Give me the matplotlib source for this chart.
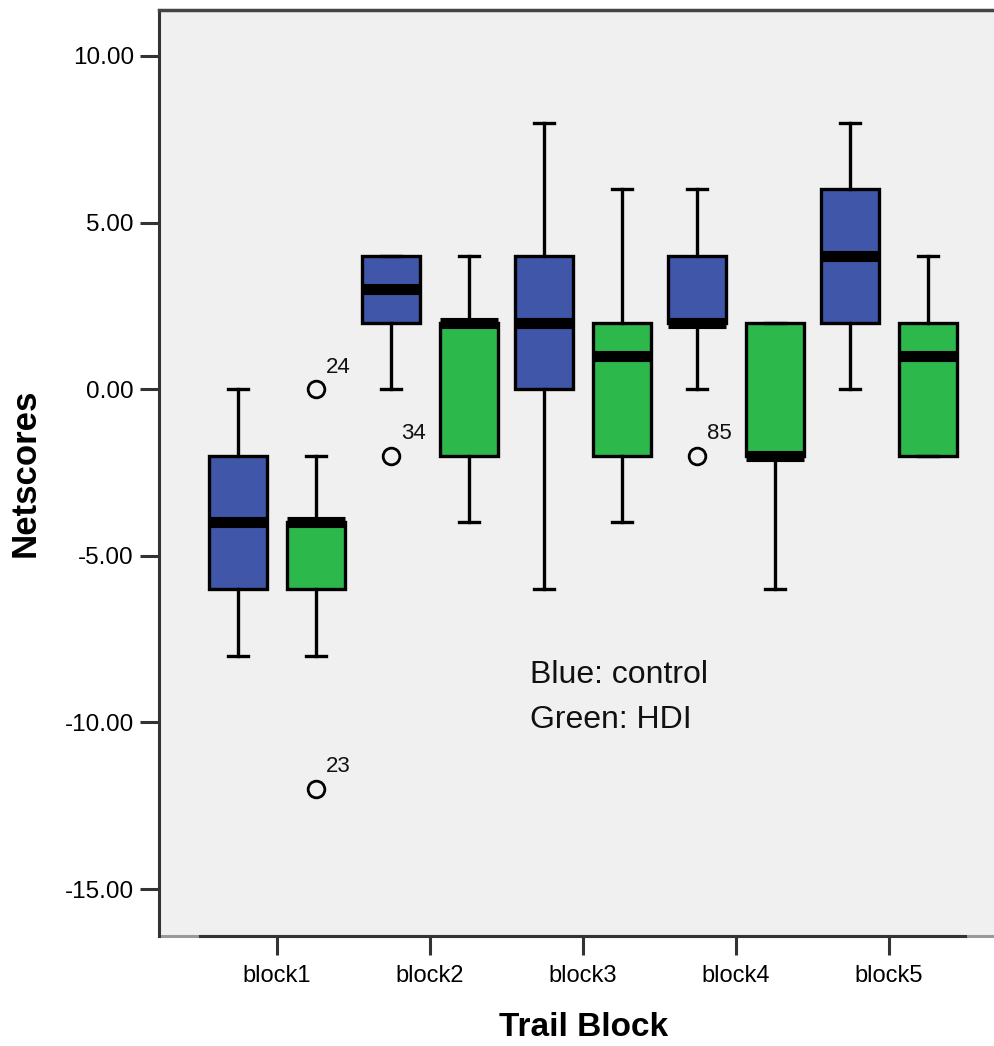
import matplotlib
matplotlib.use("Agg")
import matplotlib.pyplot as plt

plt.rcParams['font.family'] = ['Liberation Sans', 'DejaVu Sans']

blocks = ["block1", "block2", "block3", "block4", "block5"]

# control (blue)
ctrl_whislo = [-8, 0, -6, 0, 0]
ctrl_q1     = [-6, 2, 0, 2, 2]
ctrl_med    = [-4, 3, 2, 2, 4]
ctrl_q3     = [-2, 4, 4, 4, 6]
ctrl_whishi = [0, 4, 8, 6, 8]
ctrl_fliers = [[], [-2], [], [-2], []]
ctrl_flier_ids = [[], ["34"], [], ["85"], []]

# HDI (green)
hdi_whislo = [-8, -4, -4, -6, -2]
hdi_q1     = [-6, -2, -2, -2, -2]
hdi_med    = [-4, 2, 1, -2, 1]
hdi_q3     = [-4, 2, 2, 2, 2]
hdi_whishi = [-2, 4, 6, 2, 4]
hdi_fliers = [[0, -12], [], [], [], []]
hdi_flier_ids = [["24", "23"], [], [], [], []]

blue = "#3F56A9"
green = "#2DB84B"
bg = "#F0F0F0"

W, H = 995, 1046
fig = plt.figure(figsize=(W / 100, H / 100), dpi=100)
ax = fig.add_axes([159 / W, 1 - 936 / H, 1 - 159 / W, (936 - 10) / H])
ax.set_facecolor(bg)

offset = 0.255
width = 0.38


def stats(lo, q1, med, q3, hi, fl):
    return [dict(whislo=a, q1=b, med=c, q3=d, whishi=e, fliers=f)
            for a, b, c, d, e, f in zip(lo, q1, med, q3, hi, fl)]


common = dict(
    widths=width, patch_artist=True, capwidths=0.13,
    whiskerprops=dict(color="black", linewidth=2.4),
    capprops=dict(color="black", linewidth=2.4),
    medianprops=dict(color="black", linewidth=8, solid_capstyle="butt"),
    flierprops=dict(marker="o", markersize=12, markerfacecolor="none",
                    markeredgecolor="black", markeredgewidth=2.0, linestyle="none"),
    manage_ticks=False,
)

pos = list(range(1, len(blocks) + 1))
pos_c = [p - offset for p in pos]
pos_h = [p + offset for p in pos]

ax.bxp(stats(ctrl_whislo, ctrl_q1, ctrl_med, ctrl_q3, ctrl_whishi, ctrl_fliers),
       positions=pos_c, boxprops=dict(facecolor=blue, edgecolor="black", linewidth=2.4),
       **common)
ax.bxp(stats(hdi_whislo, hdi_q1, hdi_med, hdi_q3, hdi_whishi, hdi_fliers),
       positions=pos_h, boxprops=dict(facecolor=green, edgecolor="black", linewidth=2.4),
       **common)

# outlier labels
for positions, fliers, ids in ((pos_c, ctrl_fliers, ctrl_flier_ids), (pos_h, hdi_fliers, hdi_flier_ids)):
    for p, fl, idl in zip(positions, fliers, ids):
        for v, lab in zip(fl, idl):
            ax.annotate(lab, (p, v), xytext=(7, 12), textcoords="offset points",
                        fontsize=16, color="#111111")

ax.set_xlim(0.229, 5.693)
ax.set_ylim(-16.41, 11.38)

yt = [10, 5, 0, -5, -10, -15]
ax.set_yticks(yt)
ax.set_yticklabels([f"{v:.2f}" for v in yt], fontsize=17.5)
ax.set_xticks(pos)
ax.set_xticklabels(blocks, fontsize=17)
ax.tick_params(axis="both", length=14, width=2.2, color="#333333", direction="out", pad=4)
ax.tick_params(axis="x", pad=7)

ax.spines["right"].set_visible(False)
ax.spines["top"].set_color("#444444")
ax.spines["top"].set_linewidth(2.5)
ax.spines["left"].set_color("#333333")
ax.spines["left"].set_linewidth(2.2)
ax.spines["bottom"].set_color("#333333")
ax.spines["bottom"].set_linewidth(2.2)
ax.spines["bottom"].set_bounds(0.5, 5.5)
ax.axhline(ax.get_ylim()[0], color="#999999", linewidth=2.2, zorder=0.5, clip_on=False)

ax.set_ylabel("Netscores", fontsize=25, fontweight="bold")
ax.set_xlabel("Trail Block", fontsize=24, fontweight="bold")
ax.xaxis.set_label_coords((584 - 159) / (W - 159), -0.082)
ax.yaxis.set_label_coords(-(159 - 25) / (W - 159), 0.5)
ax.yaxis.label.set_va("center")

ax.text(2.654, -8.58, "Blue: control", fontsize=23, va="center", ha="left", color="#111111")
ax.text(2.654, -9.93, "Green: HDI", fontsize=23, va="center", ha="left", color="#111111")

fig.savefig("out.png", dpi=100, facecolor="white")
